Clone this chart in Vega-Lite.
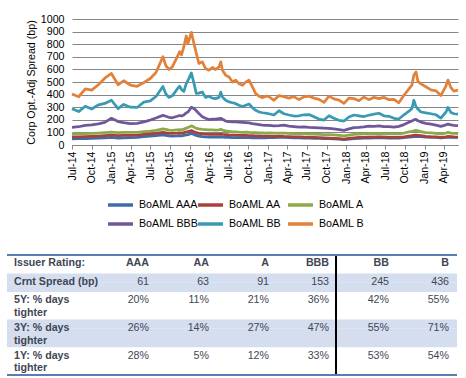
{
  "$schema": "https://vega.github.io/schema/vega-lite/v6.json",
  "background": "white",
  "padding": {"left": 6, "top": 13, "right": 4, "bottom": 2},
  "bounds": "flush",
  "spacing": 110,
  "config": {"font": "Liberation Sans", "view": {"stroke": null}},
  "resolve": {"scale": {"color": "independent"}, "legend": {"color": "independent"}},
  "vconcat": [
    {
      "width": 386,
      "height": 126,
      "data": {"values": [
        {"d":"2014-07-01","AAA":49,"AA":64,"A":87,"BBB":140,"BB":288,"B":405},
        {"d":"2014-08-01","AAA":50,"AA":65,"A":89,"BBB":145,"BB":265,"B":383},
        {"d":"2014-09-01","AAA":51,"AA":67,"A":91,"BBB":155,"BB":308,"B":445},
        {"d":"2014-10-01","AAA":53,"AA":69,"A":93,"BBB":160,"BB":286,"B":436},
        {"d":"2014-11-01","AAA":55,"AA":71,"A":95,"BBB":168,"BB":318,"B":478},
        {"d":"2014-12-01","AAA":57,"AA":74,"A":98,"BBB":180,"BB":330,"B":530},
        {"d":"2015-01-01","AAA":60,"AA":78,"A":102,"BBB":212,"BB":355,"B":568},
        {"d":"2015-02-01","AAA":54,"AA":74,"A":98,"BBB":186,"BB":288,"B":478},
        {"d":"2015-02-27","AAA":57,"AA":76,"A":100,"BBB":178,"BB":322,"B":510},
        {"d":"2015-03-30","AAA":58,"AA":76,"A":100,"BBB":170,"BB":300,"B":476},
        {"d":"2015-05-01","AAA":60,"AA":78,"A":100,"BBB":172,"BB":298,"B":466},
        {"d":"2015-06-01","AAA":66,"AA":84,"A":106,"BBB":184,"BB":340,"B":495},
        {"d":"2015-07-01","AAA":70,"AA":88,"A":110,"BBB":198,"BB":350,"B":528},
        {"d":"2015-07-28","AAA":74,"AA":92,"A":116,"BBB":214,"BB":385,"B":575},
        {"d":"2015-08-29","AAA":80,"AA":100,"A":128,"BBB":235,"BB":465,"B":700},
        {"d":"2015-09-12","AAA":76,"AA":96,"A":124,"BBB":228,"BB":405,"B":630},
        {"d":"2015-09-26","AAA":72,"AA":92,"A":118,"BBB":220,"BB":378,"B":600},
        {"d":"2015-10-12","AAA":70,"AA":92,"A":116,"BBB":216,"BB":390,"B":620},
        {"d":"2015-11-04","AAA":72,"AA":94,"A":120,"BBB":228,"BB":445,"B":700},
        {"d":"2015-11-15","AAA":74,"AA":96,"A":122,"BBB":234,"BB":466,"B":740},
        {"d":"2015-11-24","AAA":72,"AA":94,"A":120,"BBB":230,"BB":440,"B":715},
        {"d":"2015-12-05","AAA":76,"AA":98,"A":126,"BBB":238,"BB":425,"B":780},
        {"d":"2015-12-16","AAA":80,"AA":104,"A":134,"BBB":255,"BB":487,"B":865},
        {"d":"2015-12-24","AAA":82,"AA":106,"A":138,"BBB":262,"BB":512,"B":806},
        {"d":"2016-01-09","AAA":92,"AA":115,"A":152,"BBB":300,"BB":572,"B":894},
        {"d":"2016-01-21","AAA":84,"AA":106,"A":142,"BBB":290,"BB":490,"B":806},
        {"d":"2016-02-01","AAA":76,"AA":98,"A":132,"BBB":272,"BB":410,"B":727},
        {"d":"2016-02-13","AAA":70,"AA":92,"A":128,"BBB":250,"BB":412,"B":647},
        {"d":"2016-02-29","AAA":66,"AA":88,"A":124,"BBB":225,"BB":421,"B":660},
        {"d":"2016-03-15","AAA":64,"AA":86,"A":122,"BBB":212,"BB":378,"B":607},
        {"d":"2016-03-31","AAA":63,"AA":85,"A":120,"BBB":202,"BB":387,"B":594},
        {"d":"2016-04-16","AAA":62,"AA":84,"A":120,"BBB":205,"BB":372,"B":615},
        {"d":"2016-05-01","AAA":62,"AA":84,"A":118,"BBB":206,"BB":368,"B":599},
        {"d":"2016-05-17","AAA":63,"AA":85,"A":120,"BBB":210,"BB":378,"B":620},
        {"d":"2016-05-25","AAA":64,"AA":86,"A":124,"BBB":212,"BB":420,"B":660},
        {"d":"2016-06-02","AAA":62,"AA":84,"A":118,"BBB":204,"BB":380,"B":594},
        {"d":"2016-06-17","AAA":60,"AA":82,"A":112,"BBB":190,"BB":355,"B":554},
        {"d":"2016-07-03","AAA":60,"AA":80,"A":108,"BBB":186,"BB":342,"B":540},
        {"d":"2016-07-19","AAA":59,"AA":79,"A":104,"BBB":184,"BB":335,"B":500},
        {"d":"2016-08-03","AAA":58,"AA":78,"A":104,"BBB":183,"BB":328,"B":514},
        {"d":"2016-08-18","AAA":58,"AA":77,"A":102,"BBB":182,"BB":315,"B":487},
        {"d":"2016-09-03","AAA":58,"AA":76,"A":101,"BBB":180,"BB":305,"B":474},
        {"d":"2016-09-19","AAA":58,"AA":76,"A":102,"BBB":178,"BB":315,"B":500},
        {"d":"2016-10-04","AAA":58,"AA":75,"A":100,"BBB":175,"BB":325,"B":514},
        {"d":"2016-10-20","AAA":57,"AA":74,"A":99,"BBB":170,"BB":296,"B":461},
        {"d":"2016-11-04","AAA":57,"AA":73,"A":98,"BBB":166,"BB":275,"B":408},
        {"d":"2016-11-20","AAA":57,"AA":72,"A":97,"BBB":162,"BB":262,"B":387},
        {"d":"2016-12-06","AAA":56,"AA":71,"A":96,"BBB":158,"BB":256,"B":376},
        {"d":"2016-12-21","AAA":57,"AA":70,"A":95,"BBB":155,"BB":253,"B":387},
        {"d":"2017-01-04","AAA":60,"AA":70,"A":96,"BBB":155,"BB":248,"B":385},
        {"d":"2017-01-28","AAA":59,"AA":69,"A":94,"BBB":152,"BB":238,"B":355},
        {"d":"2017-02-21","AAA":60,"AA":70,"A":95,"BBB":154,"BB":272,"B":392},
        {"d":"2017-03-16","AAA":60,"AA":68,"A":95,"BBB":158,"BB":248,"B":383},
        {"d":"2017-04-08","AAA":58,"AA":67,"A":93,"BBB":150,"BB":238,"B":372},
        {"d":"2017-05-01","AAA":57,"AA":65,"A":90,"BBB":146,"BB":230,"B":384},
        {"d":"2017-05-25","AAA":56,"AA":64,"A":89,"BBB":142,"BB":232,"B":360},
        {"d":"2017-06-17","AAA":55,"AA":62,"A":88,"BBB":144,"BB":240,"B":382},
        {"d":"2017-07-11","AAA":54,"AA":61,"A":87,"BBB":140,"BB":242,"B":388},
        {"d":"2017-08-03","AAA":53,"AA":60,"A":86,"BBB":138,"BB":225,"B":372},
        {"d":"2017-08-26","AAA":52,"AA":59,"A":85,"BBB":136,"BB":206,"B":362},
        {"d":"2017-09-19","AAA":51,"AA":57,"A":83,"BBB":134,"BB":198,"B":338},
        {"d":"2017-10-12","AAA":50,"AA":55,"A":82,"BBB":132,"BB":232,"B":388},
        {"d":"2017-11-04","AAA":48,"AA":53,"A":80,"BBB":128,"BB":212,"B":366},
        {"d":"2017-11-28","AAA":46,"AA":50,"A":77,"BBB":122,"BB":196,"B":356},
        {"d":"2017-12-21","AAA":42,"AA":46,"A":72,"BBB":116,"BB":190,"B":330},
        {"d":"2018-01-13","AAA":46,"AA":52,"A":78,"BBB":128,"BB":222,"B":372},
        {"d":"2018-02-06","AAA":50,"AA":57,"A":84,"BBB":138,"BB":238,"B":368},
        {"d":"2018-03-01","AAA":52,"AA":60,"A":87,"BBB":140,"BB":232,"B":352},
        {"d":"2018-03-24","AAA":54,"AA":61,"A":88,"BBB":144,"BB":226,"B":380},
        {"d":"2018-04-16","AAA":55,"AA":62,"A":88,"BBB":150,"BB":236,"B":360},
        {"d":"2018-05-10","AAA":56,"AA":63,"A":89,"BBB":148,"BB":245,"B":378},
        {"d":"2018-06-02","AAA":58,"AA":64,"A":90,"BBB":152,"BB":252,"B":368},
        {"d":"2018-06-25","AAA":56,"AA":62,"A":89,"BBB":146,"BB":232,"B":378},
        {"d":"2018-07-19","AAA":55,"AA":60,"A":88,"BBB":146,"BB":228,"B":360},
        {"d":"2018-08-11","AAA":55,"AA":60,"A":88,"BBB":142,"BB":212,"B":362},
        {"d":"2018-09-03","AAA":55,"AA":60,"A":88,"BBB":148,"BB":206,"B":335},
        {"d":"2018-09-27","AAA":58,"AA":64,"A":95,"BBB":162,"BB":240,"B":395},
        {"d":"2018-10-20","AAA":62,"AA":70,"A":104,"BBB":180,"BB":268,"B":445},
        {"d":"2018-11-03","AAA":64,"AA":74,"A":108,"BBB":190,"BB":290,"B":475},
        {"d":"2018-11-12","AAA":66,"AA":77,"A":112,"BBB":200,"BB":355,"B":555},
        {"d":"2018-11-22","AAA":68,"AA":79,"A":116,"BBB":204,"BB":305,"B":580},
        {"d":"2018-12-01","AAA":67,"AA":77,"A":112,"BBB":192,"BB":285,"B":505},
        {"d":"2018-12-15","AAA":66,"AA":74,"A":106,"BBB":182,"BB":262,"B":485},
        {"d":"2019-01-07","AAA":62,"AA":68,"A":98,"BBB":172,"BB":255,"B":462},
        {"d":"2019-01-31","AAA":61,"AA":66,"A":96,"BBB":165,"BB":248,"B":438},
        {"d":"2019-02-23","AAA":60,"AA":65,"A":93,"BBB":158,"BB":240,"B":430},
        {"d":"2019-03-18","AAA":56,"AA":60,"A":88,"BBB":148,"BB":214,"B":392},
        {"d":"2019-04-11","AAA":60,"AA":65,"A":95,"BBB":160,"BB":262,"B":470},
        {"d":"2019-04-20","AAA":62,"AA":68,"A":100,"BBB":166,"BB":298,"B":515},
        {"d":"2019-05-04","AAA":61,"AA":66,"A":94,"BBB":160,"BB":258,"B":455},
        {"d":"2019-05-18","AAA":60,"AA":64,"A":92,"BBB":155,"BB":248,"B":428},
        {"d":"2019-06-06","AAA":61,"AA":63,"A":91,"BBB":153,"BB":245,"B":436}
      ]},
      "transform": [{"fold": ["AAA", "AA", "A", "BBB", "BB", "B"], "as": ["rating", "spread"]}],
      "mark": {"type": "line", "strokeWidth": 2.75, "strokeJoin": "round"},
      "encoding": {
        "x": {
          "field": "d", "type": "temporal",
          "scale": {"type": "utc", "nice": false},
          "axis": {
            "title": null, "format": "%b-%y", "tickCount": {"interval": "month", "step": 3},
            "labelAngle": 270, "labelFontSize": 10.67, "labelColor": "#000000",
            "labelPadding": 2, "labelOverlap": false, "labelFlush": false,
            "domainColor": "#868686", "tickColor": "#868686", "tickSize": 4, "grid": false
          }
        },
        "y": {
          "field": "spread", "type": "quantitative",
          "scale": {"domain": [0, 1000], "nice": false},
          "axis": {
            "title": "Corp Opt.-Adj Spread (bp)", "values": [0,100,200,300,400,500,600,700,800,900,1000],
            "format": "d",
            "ticks": false, "domain": false, "grid": true, "gridColor": "#868686", "gridWidth": 1,
            "labelFontSize": 10.67, "labelColor": "#000000", "labelPadding": 8,
            "titleFontSize": 10.67, "titleFontWeight": "normal", "titleColor": "#000000", "titlePadding": 4
          }
        },
        "color": {
          "field": "rating", "type": "nominal",
          "scale": {"domain": ["AAA", "AA", "A", "BBB", "BB", "B"],
                    "range": ["#3D6CAA", "#A8403D", "#8BAA4A", "#71569A", "#3A9AB3", "#E2823A"]},
          "legend": {
            "orient": "none", "legendX": 36.5, "legendY": 174, "direction": "horizontal", "columns": 3,
            "title": null, "padding": 0, "symbolType": "M-1.25,0H1.25", "symbolSize": 400, "symbolStrokeWidth": 3.5,
            "labelFontSize": 10.67, "labelColor": "#000000", "labelOffset": 6.5,
            "columnPadding": -10.5, "rowPadding": 0, "gridAlign": "all",
            "labelExpr": "'BoAML ' + datum.label"
          }
        }
      }
    },
    {
      "width": 386,
      "height": 120,
      "data": {"values": [
        {"line":"0","row":0,"sub":0,"col":0,"txt":"Issuer Rating:"},
        {"line":"0","row":0,"sub":0,"col":1,"txt":"AAA"},
        {"line":"0","row":0,"sub":0,"col":2,"txt":"AA"},
        {"line":"0","row":0,"sub":0,"col":3,"txt":"A"},
        {"line":"0","row":0,"sub":0,"col":4,"txt":"BBB"},
        {"line":"0","row":0,"sub":0,"col":5,"txt":"BB"},
        {"line":"0","row":0,"sub":0,"col":6,"txt":"B"},
        {"line":"2","row":1,"sub":0,"col":0,"txt":"Crnt Spread (bp)"},
        {"line":"2","row":1,"sub":0,"col":1,"txt":"61"},
        {"line":"2","row":1,"sub":0,"col":2,"txt":"63"},
        {"line":"2","row":1,"sub":0,"col":3,"txt":"91"},
        {"line":"2","row":1,"sub":0,"col":4,"txt":"153"},
        {"line":"2","row":1,"sub":0,"col":5,"txt":"245"},
        {"line":"2","row":1,"sub":0,"col":6,"txt":"436"},
        {"line":"4","row":2,"sub":0,"col":0,"txt":"5Y: % days"},
        {"line":"6","row":2,"sub":1,"col":0,"txt":"tighter"},
        {"line":"4","row":2,"sub":0,"col":1,"txt":"20%"},
        {"line":"4","row":2,"sub":0,"col":2,"txt":"11%"},
        {"line":"4","row":2,"sub":0,"col":3,"txt":"21%"},
        {"line":"4","row":2,"sub":0,"col":4,"txt":"36%"},
        {"line":"4","row":2,"sub":0,"col":5,"txt":"42%"},
        {"line":"4","row":2,"sub":0,"col":6,"txt":"55%"},
        {"line":"7","row":3,"sub":0,"col":0,"txt":"3Y: % days"},
        {"line":"9","row":3,"sub":1,"col":0,"txt":"tighter"},
        {"line":"7","row":3,"sub":0,"col":1,"txt":"26%"},
        {"line":"7","row":3,"sub":0,"col":2,"txt":"14%"},
        {"line":"7","row":3,"sub":0,"col":3,"txt":"27%"},
        {"line":"7","row":3,"sub":0,"col":4,"txt":"47%"},
        {"line":"7","row":3,"sub":0,"col":5,"txt":"55%"},
        {"line":"7","row":3,"sub":0,"col":6,"txt":"71%"},
        {"line":"10","row":4,"sub":0,"col":0,"txt":"1Y: % days"},
        {"line":"12","row":4,"sub":1,"col":0,"txt":"tighter"},
        {"line":"10","row":4,"sub":0,"col":1,"txt":"28%"},
        {"line":"10","row":4,"sub":0,"col":2,"txt":"5%"},
        {"line":"10","row":4,"sub":0,"col":3,"txt":"12%"},
        {"line":"10","row":4,"sub":0,"col":4,"txt":"33%"},
        {"line":"10","row":4,"sub":0,"col":5,"txt":"53%"},
        {"line":"10","row":4,"sub":0,"col":6,"txt":"54%"}
      ]},
      "layer": [
        {
          "data": {"values": [{"line":"2"},{"line":"3"},{"line":"7"},{"line":"8"},{"line":"9"}]},
          "mark": {"type": "rect", "color": "#D4DEEE"},
          "encoding": {
            "y": {"field": "line", "type": "ordinal",
                  "scale": {"domain": ["0","1","2","3","4","5","6","7","8","9","10","11","12"], "paddingInner": 0, "paddingOuter": 0},
                  "axis": null},
            "x": {"datum": -1.3667, "type": "quantitative",
                  "scale": {"domain": [-0.28333, 6.15], "nice": false, "zero": false}, "axis": null},
            "x2": {"datum": 6.1333}
          }
        },
        {
          "mark": {"type": "rule", "color": "#000000", "strokeWidth": 1.2},
          "encoding": {"x": {"datum": 4.1167, "type": "quantitative"}}
        },
        {
          "mark": {"type": "rule", "color": "#5A7DB5", "strokeWidth": 1.5},
          "encoding": {
            "x": {"datum": -1.3667, "type": "quantitative"}, "x2": {"datum": 6.1333},
            "y": {"datum": "0", "type": "ordinal", "bandPosition": 0}
          }
        },
        {
          "mark": {"type": "rule", "color": "#5A7DB5", "strokeWidth": 1.5},
          "encoding": {
            "x": {"datum": -1.3667, "type": "quantitative"}, "x2": {"datum": 6.1333},
            "y": {"datum": "12", "type": "ordinal", "bandPosition": 1}
          }
        },
        {
          "transform": [{"filter": "datum.col == 0 && datum.sub == 0"}],
          "mark": {"type": "text", "align": "left", "fontWeight": "bold", "fontSize": 10.67, "color": "#404654", "dy": 3.6},
          "encoding": {
            "x": {"datum": -1.25, "type": "quantitative"},
            "y": {"field": "line", "type": "ordinal"},
            "text": {"field": "txt"}
          }
        },
        {
          "transform": [{"filter": "datum.col == 0 && datum.sub == 1"}],
          "mark": {"type": "text", "align": "left", "fontWeight": "bold", "fontSize": 10.67, "color": "#404654", "dy": -2},
          "encoding": {
            "x": {"datum": -1.25, "type": "quantitative"},
            "y": {"field": "line", "type": "ordinal"},
            "text": {"field": "txt"}
          }
        },
        {
          "transform": [{"filter": "datum.row == 0 && datum.col > 0"}],
          "mark": {"type": "text", "align": "right", "fontWeight": "bold", "fontSize": 10.67, "color": "#404654", "dy": 3.6},
          "encoding": {
            "x": {"field": "col", "type": "quantitative"},
            "y": {"field": "line", "type": "ordinal"},
            "text": {"field": "txt"}
          }
        },
        {
          "transform": [{"filter": "datum.row > 0 && datum.col > 0"}],
          "mark": {"type": "text", "align": "right", "fontSize": 10.67, "color": "#404654", "dy": 3.6},
          "encoding": {
            "x": {"field": "col", "type": "quantitative"},
            "y": {"field": "line", "type": "ordinal"},
            "text": {"field": "txt"}
          }
        }
      ]
    }
  ]
}
